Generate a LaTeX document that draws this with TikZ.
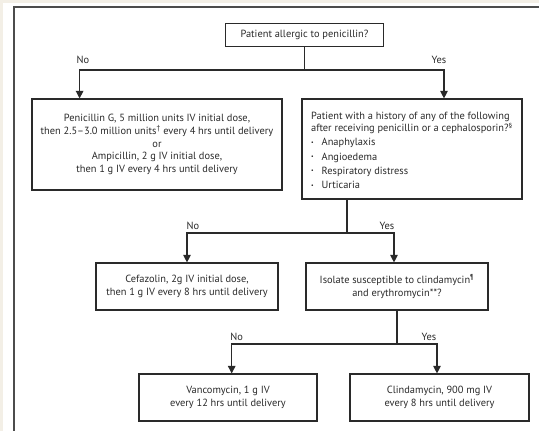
\documentclass[tikz,border=0pt]{standalone}
\usepackage{fontspec}
\setmainfont{PT Sans}
\usetikzlibrary{arrows.meta,calc}
\definecolor{beige}{HTML}{F3EFE6}
\definecolor{ink}{HTML}{2A2A2A}
\newcommand{\bul}{\makebox[10.5pt][l]{\raisebox{0.25ex}{\scalebox{0.55}{\textbullet}}}}
\begin{document}
\begin{tikzpicture}[x=1pt,y=-1pt,
  box/.style={draw=ink,line width=1.15pt,fill=white,inner sep=0pt,font=\fontsize{10.4}{12.8}\selectfont,text=ink},
  txt/.style={inner sep=0pt,font=\fontsize{10.4}{12.6}\selectfont,text=ink},
  conn/.style={draw=ink,line width=1.15pt},
  arr/.style={conn,-{Triangle[length=7.5pt,width=7.5pt]}},
  lab/.style={font=\fontsize{10.4}{11}\selectfont,text=ink,inner sep=0pt}]
\useasboundingbox (0,0) rectangle (539,431);
\fill[beige] (0,0) rectangle (539,431);
\fill[white] (3,3) rectangle (539,431);
\draw[line width=2.2pt,draw=black!70] (539,7) -- (14,7) -- (14,431);

\node[box,minimum width=158pt,minimum height=22.6pt] (top) at (304.5,35) {Patient allergic to penicillin?};
\node[box,minimum width=250pt,minimum height=91pt,align=center] (pen) at (157,144.5)
 {Penicillin G, 5 million units IV initial dose,\\
  then 2.5–3.0 million units\textsuperscript{†} every 4 hrs until delivery\\
  or\\
  Ampicillin, 2 g IV initial dose,\\
  then 1 g IV every 4 hrs until delivery};
\node[box,minimum width=220pt,minimum height=100pt] (hist) at (412,149) {};
\node[txt,anchor=north west,align=left] (histtxt) at (311,111.5)
 {Patient with a history of any of the following\\
  after receiving penicillin or a cephalosporin?\textsuperscript{§}\\[1.6pt]
  \bul Anaphylaxis\\[1.6pt]
  \bul Angioedema\\[1.6pt]
  \bul Respiratory distress\\[1.6pt]
  \bul Urticaria};
\node[box,minimum width=182pt,minimum height=47pt,align=center] (cef) at (187,286.5)
 {Cefazolin, 2g IV initial dose,\\then 1 g IV every 8 hrs until delivery};
\node[box,minimum width=182pt,minimum height=47pt,align=center] (iso) at (397,286.5)
 {Isolate susceptible to clindamycin\textsuperscript{¶}\\and erythromycin**?};
\node[box,minimum width=178pt,minimum height=47pt,align=center] (van) at (228,397.5)
 {Vancomycin, 1 g IV\\every 12 hrs until delivery};
\node[box,minimum width=179pt,minimum height=47pt,align=center] (cli) at (439.5,397.5)
 {Clindamycin, 900 mg IV\\every 8 hrs until delivery};

% level 1
\coordinate (j1) at (304.5,70);
\coordinate (aL) at (79.6,70);
\coordinate (aR) at (444,70);
\draw[conn] (top.south) -- (j1);
\draw[arr] (j1) -| (aL |- pen.north);
\draw[arr] (j1) -| (aR |- hist.north);
\node[lab] (no1) at (83,60) {No};
\node[lab] (yes1) at (439,60) {Yes};

% level 2
\coordinate (s2) at (347,233);
\coordinate (a2R) at (394,233);
\draw[conn] (s2 |- hist.south) -- (s2);
\draw[arr] (s2) -| (cef.north);
\draw[arr] (s2) -| (a2R |- iso.north);
\node[lab] (no2) at (193,226) {No};
\node[lab] (yes2) at (387,226) {Yes};

% level 3
\coordinate (s3) at (397,344);
\coordinate (a3L) at (231.7,344);
\coordinate (a3R) at (437,344);
\draw[conn] (iso.south) -- (s3);
\draw[arr] (s3) -| (a3L |- van.north);
\draw[arr] (s3) -| (a3R |- cli.north);
\node[lab] (no3) at (236.7,337) {No};
\node[lab] (yes3) at (429,337) {Yes};
\end{tikzpicture}
\end{document}
